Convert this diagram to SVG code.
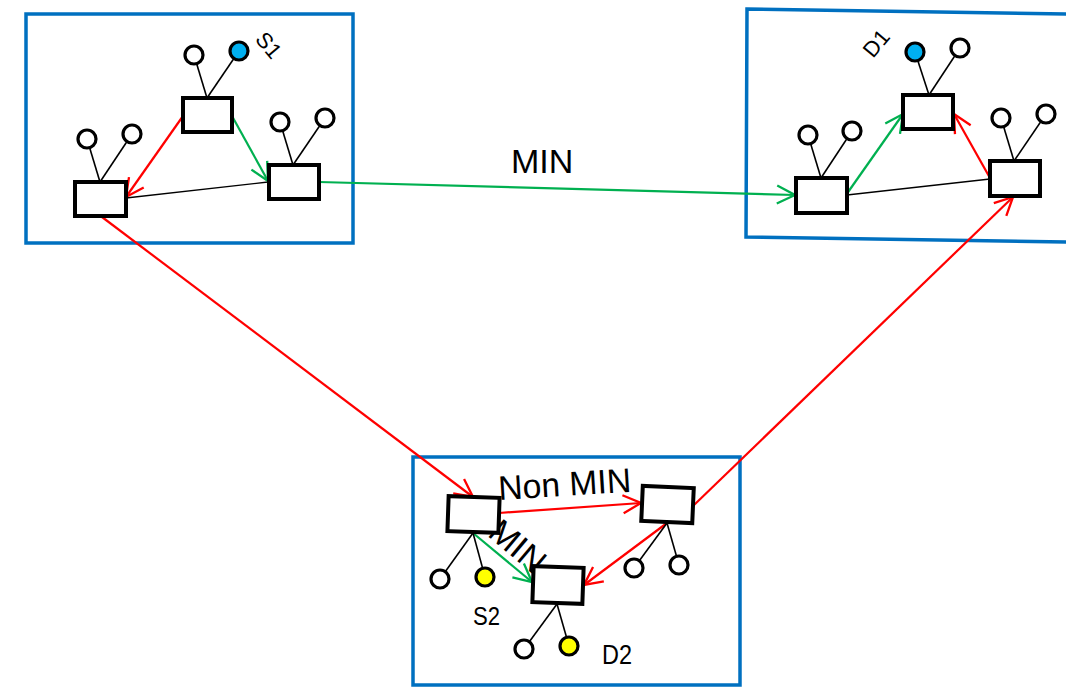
<svg xmlns="http://www.w3.org/2000/svg" width="1066" height="687" viewBox="0 0 1066 687">
  <defs>
    <style>
      .cluster { fill: none; stroke: #0070C0; stroke-width: 3.5; }
      .router { fill: #FFFFFF; stroke: #000000; stroke-width: 4; }
      .host { fill: #FFFFFF; stroke: #000000; stroke-width: 3.2; }
      .host.blue { fill: #00B0F0; }
      .host.yellow { fill: #FFFF00; }
      .tie { stroke: #000000; stroke-width: 1.6; fill: none; }
      .link { stroke: #000000; stroke-width: 1.3; fill: none; }
      .red { stroke: #FF0000; stroke-width: 2.2; fill: none; marker-end: url(#ah-red); }
      .green { stroke: #00B050; stroke-width: 2.2; fill: none; marker-end: url(#ah-green); }
      .label { font-family: "Liberation Sans", Arial, sans-serif; fill: #000000; }
    </style>
    <marker id="ah-red" markerUnits="userSpaceOnUse" markerWidth="30" markerHeight="30" viewBox="-20 -15 30 30" refX="0" refY="0" orient="auto" overflow="visible">
      <path d="M-18,-9 L0,0 L-18,9" fill="none" stroke="#FF0000" stroke-width="2.3"/>
    </marker>
    <marker id="ah-green" markerUnits="userSpaceOnUse" markerWidth="30" markerHeight="30" viewBox="-20 -15 30 30" refX="0" refY="0" orient="auto" overflow="visible">
      <path d="M-18,-9 L0,0 L-18,9" fill="none" stroke="#00B050" stroke-width="2.3"/>
    </marker>
  </defs>

  <rect width="1066" height="687" fill="#FFFFFF"/>

  <!-- network regions -->
  <g id="clusters">
    <rect id="region-src" class="cluster" x="26" y="14" width="327" height="229"/>
    <polygon id="region-dst" class="cluster" points="747,9 1072,14 1072,242 746,237"/>
    <rect id="region-mid" class="cluster" x="413" y="457" width="327" height="228"/>
  </g>

  <!-- connectors -->
  <g id="connectors">
    <line class="link" x1="126" y1="198" x2="268" y2="182"/>
    <line class="link" x1="847" y1="195" x2="990" y2="179"/>
    <line class="red" x1="183" y1="116" x2="126" y2="197"/>
    <line class="green" x1="232" y1="116" x2="268" y2="181"/>
    <line class="green" x1="319" y1="182" x2="795" y2="195"/>
    <line class="red" x1="102" y1="217" x2="473" y2="497"/>
    <line class="red" x1="499" y1="513" x2="641" y2="503"/>
    <line class="green" x1="473" y1="533" x2="532" y2="582"/>
    <line class="red" x1="667" y1="523" x2="584" y2="585"/>
    <line class="red" x1="693" y1="506" x2="1013" y2="197"/>
    <line class="green" x1="846" y1="195" x2="903" y2="114"/>
    <line class="red" x1="990" y1="178" x2="954" y2="114"/>
  </g>

  <!-- labels -->
  <g id="labels">
    <text class="label" x="511" y="173" font-size="34">MIN</text>
    <text class="label" x="499" y="500" font-size="34" textLength="133" lengthAdjust="spacingAndGlyphs" transform="rotate(-3.6 499 500)">Non MIN</text>
    <text class="label" x="0" y="12" font-size="34" text-anchor="middle" transform="translate(518 546) rotate(40)">MIN</text>
    <text class="label" x="0" y="8" font-size="22" text-anchor="middle" transform="translate(269 45) rotate(50)">S1</text>
    <text class="label" x="0" y="8" font-size="22" text-anchor="middle" transform="translate(876 43) rotate(-50)">D1</text>
    <text class="label" x="473" y="625" font-size="25" textLength="27" lengthAdjust="spacingAndGlyphs">S2</text>
    <text class="label" x="602" y="664" font-size="27" textLength="30" lengthAdjust="spacingAndGlyphs">D2</text>
  </g>

  <!-- source region switches -->
  <g id="sw-a">
    <line class="tie" x1="207" y1="98" x2="194" y2="55"/>
    <line class="tie" x1="207" y1="98" x2="239" y2="51"/>
    <circle class="host" cx="194" cy="55" r="9"/>
    <circle class="host blue" cx="239" cy="51" r="9"/>
    <rect class="router" x="183" y="98" width="49" height="34"/>
  </g>
  <g id="sw-b">
    <line class="tie" x1="100" y1="182" x2="87" y2="139"/>
    <line class="tie" x1="100" y1="182" x2="132" y2="134"/>
    <circle class="host" cx="87" cy="139" r="9"/>
    <circle class="host" cx="132" cy="134" r="9"/>
    <rect class="router" x="75" y="182" width="51" height="34"/>
  </g>
  <g id="sw-c">
    <line class="tie" x1="293" y1="165" x2="280" y2="122"/>
    <line class="tie" x1="293" y1="165" x2="325" y2="118"/>
    <circle class="host" cx="280" cy="122" r="9"/>
    <circle class="host" cx="325" cy="118" r="9"/>
    <rect class="router" x="269" y="165" width="50" height="34"/>
  </g>

  <!-- destination region switches -->
  <g id="sw-d">
    <line class="tie" x1="821" y1="178" x2="808" y2="135"/>
    <line class="tie" x1="821" y1="178" x2="852" y2="131"/>
    <circle class="host" cx="808" cy="135" r="9"/>
    <circle class="host" cx="852" cy="131" r="9"/>
    <rect class="router" x="796" y="178" width="51" height="35"/>
  </g>
  <g id="sw-e">
    <line class="tie" x1="929" y1="95" x2="915" y2="52"/>
    <line class="tie" x1="929" y1="95" x2="960" y2="48"/>
    <circle class="host blue" cx="915" cy="52" r="9"/>
    <circle class="host" cx="960" cy="48" r="9"/>
    <rect class="router" x="903" y="95" width="50" height="34"/>
  </g>
  <g id="sw-f">
    <line class="tie" x1="1014" y1="161" x2="1001" y2="118"/>
    <line class="tie" x1="1014" y1="161" x2="1046" y2="114"/>
    <circle class="host" cx="1001" cy="118" r="9"/>
    <circle class="host" cx="1046" cy="114" r="9"/>
    <rect class="router" x="990" y="161" width="50" height="35"/>
  </g>

  <!-- intermediate region switches -->
  <g id="sw-g">
    <line class="tie" x1="473" y1="533" x2="440" y2="579"/>
    <line class="tie" x1="473" y1="533" x2="485" y2="577"/>
    <circle class="host" cx="440" cy="579" r="9"/>
    <circle class="host yellow" cx="485" cy="577" r="9"/>
    <rect class="router" x="448" y="497" width="51" height="35" transform="rotate(2 474 515)"/>
  </g>
  <g id="sw-h">
    <line class="tie" x1="667" y1="523" x2="634" y2="568"/>
    <line class="tie" x1="667" y1="523" x2="679" y2="565"/>
    <circle class="host" cx="634" cy="568" r="9"/>
    <circle class="host" cx="679" cy="565" r="9"/>
    <rect class="router" x="642" y="487" width="51" height="35" transform="rotate(2.5 667 505)"/>
  </g>
  <g id="sw-i">
    <line class="tie" x1="557" y1="604" x2="524" y2="649"/>
    <line class="tie" x1="557" y1="604" x2="569" y2="646"/>
    <circle class="host" cx="524" cy="649" r="9"/>
    <circle class="host yellow" cx="569" cy="646" r="9"/>
    <rect class="router" x="533" y="567" width="50" height="36" transform="rotate(2 558 585)"/>
  </g>
</svg>
